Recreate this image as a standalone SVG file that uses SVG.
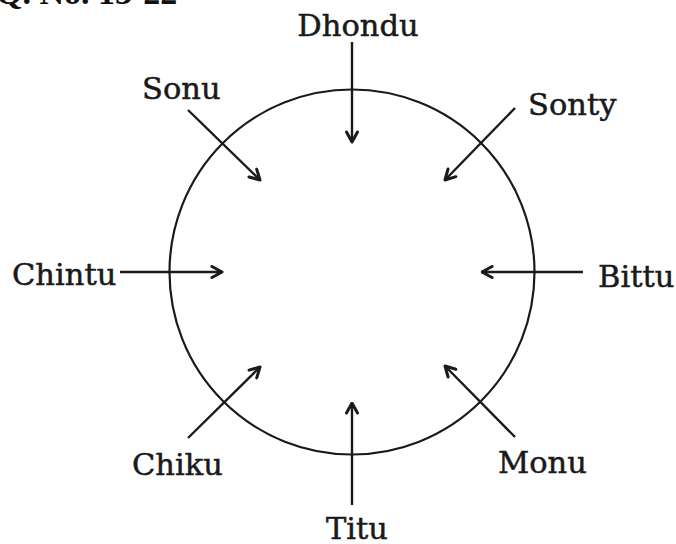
<svg xmlns="http://www.w3.org/2000/svg" width="676" height="544" viewBox="0 0 676 544">
<style>
.lbl{font-family:"DejaVu Serif","Liberation Serif",serif;font-size:30.5px;fill:#1a1a1a;stroke:#1a1a1a;stroke-width:0.5}
.ttl{font-family:"Liberation Serif",serif;font-size:34px;font-weight:bold;fill:#111}
.con{stroke:#1a1a1a;stroke-width:2.4;fill:none}
</style>
<defs>
<marker id="ah" viewBox="0 0 14 14" refX="12.5" refY="7" markerWidth="14" markerHeight="14" markerUnits="userSpaceOnUse" orient="auto">
<path d="M2.5,1.5 L12.5,7 L2.5,12.5" fill="none" stroke="#1a1a1a" stroke-width="3" stroke-linecap="round" stroke-linejoin="round"/>
</marker>
</defs>
<rect width="676" height="544" fill="#fff"/>
<text class="ttl" x="-4" y="4">Q. No. 13-22</text>
<g id="circle"><circle cx="352" cy="272" r="182.5" fill="none" stroke="#1a1a1a" stroke-width="2.2"/></g>
<g id="connectors">
<line class="con" x1="352" y1="42" x2="352" y2="142" marker-end="url(#ah)"/>
<line class="con" x1="515" y1="108" x2="445" y2="180" marker-end="url(#ah)"/>
<line class="con" x1="188" y1="110" x2="260" y2="180" marker-end="url(#ah)"/>
<line class="con" x1="120" y1="272" x2="222" y2="272" marker-end="url(#ah)"/>
<line class="con" x1="583" y1="272" x2="482" y2="272" marker-end="url(#ah)"/>
<line class="con" x1="188" y1="438" x2="260" y2="367" marker-end="url(#ah)"/>
<line class="con" x1="352" y1="505" x2="352" y2="403" marker-end="url(#ah)"/>
<line class="con" x1="515" y1="437" x2="445" y2="366" marker-end="url(#ah)"/>
</g>
<g id="dhondu"><text class="lbl" x="358" y="36" text-anchor="middle">Dhondu</text></g>
<g id="sonty"><text class="lbl" x="528" y="115">Sonty</text></g>
<g id="sonu"><text class="lbl" x="142" y="99">Sonu</text></g>
<g id="chintu"><text class="lbl" x="12" y="285">Chintu</text></g>
<g id="bittu"><text class="lbl" x="598" y="287">Bittu</text></g>
<g id="chiku"><text class="lbl" x="132" y="475">Chiku</text></g>
<g id="titu"><text class="lbl" x="357" y="539" text-anchor="middle">Titu</text></g>
<g id="monu"><text class="lbl" x="498" y="473">Monu</text></g>
</svg>
